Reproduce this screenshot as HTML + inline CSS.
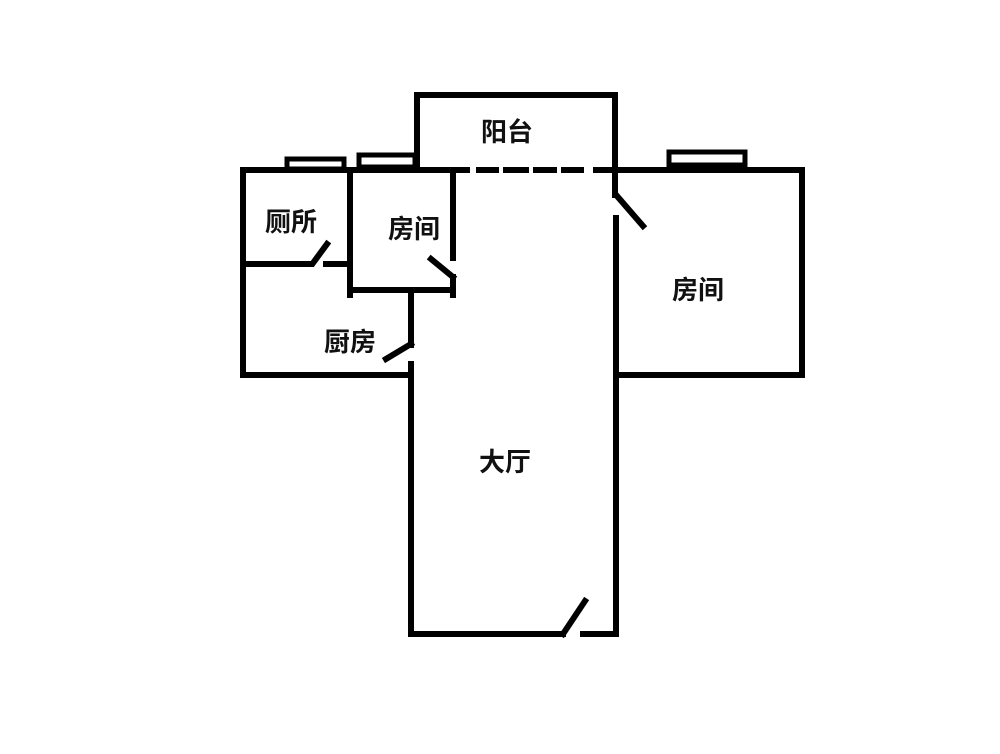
<!DOCTYPE html>
<html><head><meta charset="utf-8"><style>
html,body{margin:0;padding:0;background:#fff;}
svg{display:block}
text{font-family:"Liberation Sans","Noto Sans CJK SC",sans-serif;font-weight:bold;font-size:26px;fill:#111;text-anchor:middle;dominant-baseline:central}
</style></head><body>
<svg width="1000" height="754" viewBox="0 0 1000 754" xmlns="http://www.w3.org/2000/svg">
<g stroke="#000" stroke-width="6" fill="none" stroke-linecap="square">
<polyline points="417,170 417,95 615,95 615,195"/>
<line x1="243" y1="170" x2="467" y2="170"/>
<line x1="479" y1="170" x2="496" y2="170"/>
<line x1="506" y1="170" x2="526" y2="170"/>
<line x1="536" y1="170" x2="554" y2="170"/>
<line x1="564" y1="170" x2="581" y2="170"/>
<line x1="596" y1="170" x2="802" y2="170"/>
<line x1="243" y1="170" x2="243" y2="375"/>
<line x1="243" y1="264" x2="311" y2="264"/>
<line x1="326" y1="264" x2="348" y2="264"/>
<line x1="313" y1="263" x2="327" y2="244"/>
<line x1="350" y1="170" x2="350" y2="295"/>
<line x1="350" y1="290" x2="453" y2="290"/>
<line x1="453" y1="170" x2="453" y2="258"/>
<line x1="453" y1="277" x2="453" y2="295"/>
<line x1="431" y1="259" x2="453" y2="277"/>
<line x1="243" y1="375" x2="410" y2="375"/>
<line x1="411" y1="290" x2="411" y2="345"/>
<line x1="386" y1="359" x2="411" y2="344"/>
<line x1="411" y1="364" x2="411" y2="634"/>
<line x1="411" y1="634" x2="563" y2="634"/>
<line x1="563" y1="634" x2="585" y2="601"/>
<line x1="583" y1="634" x2="616" y2="634"/>
<line x1="616" y1="218" x2="616" y2="634"/>
<line x1="617" y1="196" x2="643" y2="226"/>
<line x1="802" y1="170" x2="802" y2="375"/>
<line x1="616" y1="375" x2="802" y2="375"/>
</g>
<g stroke="#000" stroke-width="5" fill="none">
<rect x="287" y="159" width="57" height="10"/>
<rect x="359" y="155" width="56" height="12"/>
<rect x="669" y="152" width="76" height="13"/>
</g>
<text x="507" y="132">阳台</text>
<text x="291" y="222">厕所</text>
<text x="414" y="229">房间</text>
<text x="350" y="342">厨房</text>
<text x="698" y="290">房间</text>
<text x="505" y="462">大厅</text>
</svg>
</body></html>
